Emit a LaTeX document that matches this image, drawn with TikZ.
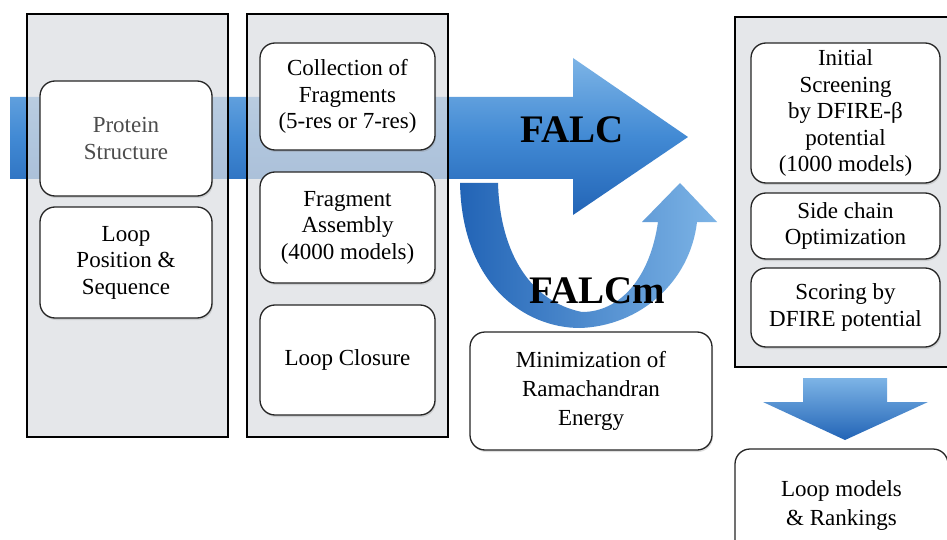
\documentclass[tikz,border=0pt]{standalone}
\usepackage{fontspec}
\setmainfont{Liberation Serif}
\usetikzlibrary{shadows}
\definecolor{panelgray}{RGB}{220,222,226}
\definecolor{blueL}{RGB}{125,180,230}
\definecolor{blueM}{RGB}{66,138,212}
\definecolor{blueD}{RGB}{34,100,182}
\tikzset{
  panel/.style={draw=black, line width=1.4pt, fill=panelgray, fill opacity=0.72, inner sep=0pt},
  box/.style={draw=black!85, line width=1.3pt, fill=white, rounded corners=15pt, align=center,
    inner sep=2pt, font=\fontsize{23}{26.5}\selectfont,
    drop shadow={opacity=0.25, shadow xshift=1pt, shadow yshift=-2pt}},
  bigtext/.style={font=\fontsize{39}{39}\selectfont\bfseries, inner sep=0pt},
}
\begin{document}
\begin{tikzpicture}[x=1pt,y=-1pt]
\useasboundingbox[fill=white] (0,0) rectangle (947,540);

% U-shaped FALCm arrow
\path[left color=blueD, right color=blueL]
  (460,183) .. controls (462,285) and (525,328) .. (580,328)
  .. controls (640,326) and (690,282) .. (697,222)
  -- (717,222) -- (680,183) -- (642,222) -- (658,222)
  .. controls (650,278) and (620,312) .. (582,312)
  .. controls (532,302) and (500,255) .. (498,183) -- cycle;

% big FALC arrow
\path[top color=blueL, bottom color=blueD, middle color=blueM]
  (10,97) -- (573,97) -- (573,58) -- (688,137) -- (573,215) -- (573,179) -- (10,179) -- cycle;

% panels
\node[panel, minimum width=201pt, minimum height=423pt] (pL) at (127.5,225.5) {};
\node[panel, minimum width=201pt, minimum height=423pt] (pM) at (347.5,225.5) {};
\node[panel, minimum width=215pt, minimum height=350pt] (pR) at (842.5,192) {};

% boxes, left panel
\node[box, minimum width=172pt, minimum height=115pt, text=black!70] (protein) at (126,138.5) {Protein\\Structure};
\node[box, minimum width=172pt, minimum height=111pt] (loop) at (126,262.5) {Loop\\Position \&\\Sequence};

% boxes, middle panel
\node[box, minimum width=175pt, minimum height=107pt] (coll) at (347.5,96.5) {Collection of\\Fragments\\(5-res or 7-res)};
\node[box, minimum width=175pt, minimum height=111pt] (frag) at (347.5,227.5) {Fragment\\Assembly\\(4000 models)};
\node[box, minimum width=175pt, minimum height=110pt] (clos) at (347.5,360) {Loop Closure};

% minimization box
\node[box, minimum width=242pt, minimum height=118pt, font=\fontsize{23}{29}\selectfont] (mini) at (591,391) {Minimization of\\Ramachandran\\Energy};

% boxes, right panel
\node[box, minimum width=189pt, minimum height=140pt] (init) at (845.5,113) {Initial\\Screening\\by DFIRE-β\\potential\\(1000 models)};
\node[box, minimum width=189pt, minimum height=66pt] (side) at (845.5,226) {Side chain\\Optimization};
\node[box, minimum width=189pt, minimum height=79pt] (score) at (845.5,307.5) {Scoring by\\DFIRE potential};

% down arrow
\path[top color=blueL, bottom color=blueD]
  (803,378) -- (887,378) -- (887,402) -- (928,402) -- (845,440) -- (763,402) -- (803,402) -- cycle;

% final box
\node[box, minimum width=213pt, minimum height=112pt, font=\fontsize{23}{29}\selectfont] (final) at (841.5,505) {Loop models\\\& Rankings};

% labels
\node[bigtext, anchor=base] (falc) at (572,143) {FALC};
\node[bigtext, anchor=base] (falcm) at (597,303) {FALCm};
\end{tikzpicture}
\end{document}
